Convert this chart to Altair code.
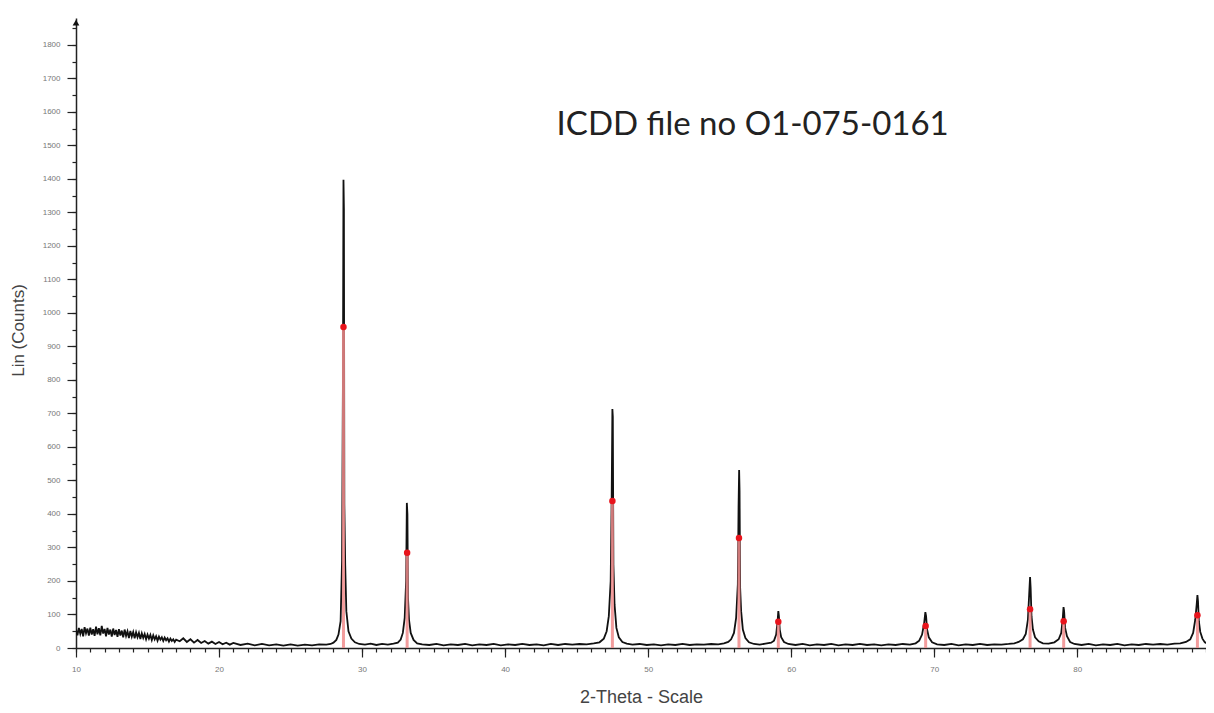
import altair as alt
import pandas as pd

two_theta = [
    # noisy low-angle background (dense)
    10.0, 10.1, 10.2, 10.3, 10.4, 10.5, 10.6, 10.7, 10.8, 10.9, 11.0,
    11.1, 11.2, 11.3, 11.4, 11.5, 11.6, 11.7, 11.8, 11.9, 12.0,
    12.1, 12.2, 12.3, 12.4, 12.5, 12.6, 12.7, 12.8, 12.9, 13.0,
    13.1, 13.2, 13.3, 13.4, 13.5, 13.6, 13.7, 13.8, 13.9, 14.0,
    14.1, 14.2, 14.3, 14.4, 14.5, 14.6, 14.7, 14.8, 14.9, 15.0,
    15.1, 15.2, 15.3, 15.4, 15.5, 15.6, 15.7, 15.8, 15.9, 16.0,
    16.1, 16.2, 16.3, 16.4, 16.5, 16.6, 16.7, 16.8, 16.9, 17.0,
    17.25, 17.5, 17.75, 18.0, 18.25, 18.5, 18.75, 19.0, 19.25, 19.5,
    19.75, 20.0, 20.25, 20.5, 20.75, 21.0,
    21.5, 22.0, 22.5, 23.0, 23.5, 24.0, 24.5, 25.0, 25.5, 26.0, 26.5,
    27.0, 27.5,
    # peak 1
    27.8, 28.0, 28.2, 28.35, 28.5, 28.6, 28.66, 28.7, 28.73, 28.76, 28.82,
    28.9, 29.05, 29.25, 29.5, 29.8,
    30.2, 30.6, 31.0, 31.4, 31.8, 32.2,
    # peak 2
    32.5, 32.7, 32.85, 32.98, 33.08, 33.13, 33.17, 33.21, 33.28, 33.4, 33.6, 33.85,
    34.2, 34.7, 35.2, 35.7, 36.2, 36.7, 37.2, 37.7, 38.2, 38.7, 39.2, 39.7,
    40.2, 40.7, 41.2, 41.7, 42.2, 42.7, 43.2, 43.7, 44.2, 44.7, 45.2, 45.7,
    46.2, 46.6,
    # peak 3
    46.9, 47.1, 47.25, 47.38, 47.45, 47.5, 47.53, 47.57, 47.65, 47.78, 47.95,
    48.2, 48.5,
    48.9, 49.4, 49.9, 50.4, 50.9, 51.4, 51.9, 52.4, 52.9, 53.4, 53.9, 54.4,
    54.9, 55.3, 55.6,
    # peak 4
    55.8, 56.0, 56.15, 56.27, 56.32, 56.36, 56.39, 56.43, 56.5, 56.62, 56.8,
    57.05, 57.4,
    57.8, 58.2, 58.6,
    # peak 5
    58.8, 58.95, 59.05, 59.1, 59.14, 59.2, 59.3, 59.5, 59.8,
    60.3, 60.8, 61.3, 61.8, 62.3, 62.8, 63.3, 63.8, 64.3, 64.8, 65.3, 65.8,
    66.3, 66.8, 67.3, 67.8, 68.3, 68.7,
    # peak 6
    68.95, 69.15, 69.3, 69.38, 69.43, 69.5, 69.62, 69.85, 70.2,
    70.7, 71.2, 71.7, 72.2, 72.7, 73.2, 73.7, 74.2, 74.7, 75.2, 75.6, 75.9,
    # peak 7
    76.2, 76.4, 76.55, 76.65, 76.7, 76.74, 76.8, 76.9, 77.05, 77.3, 77.6,
    78.0, 78.4,
    # peak 8
    78.7, 78.88, 78.98, 79.04, 79.08, 79.15, 79.28, 79.5, 79.8,
    80.3, 80.8, 81.3, 81.8, 82.3, 82.8, 83.3, 83.8, 84.3, 84.8, 85.3, 85.8,
    86.3, 86.8, 87.2, 87.6,
    # peak 9
    87.9, 88.1, 88.25, 88.35, 88.4, 88.44, 88.5, 88.6, 88.75, 88.9, 89.0,
]
counts = [
    55, 38, 60, 42, 57, 35, 62, 44, 58, 37, 61,
    40, 56, 36, 64, 41, 59, 38, 66, 43, 57,
    35, 60, 40, 55, 34, 58, 39, 54, 33, 56,
    37, 52, 32, 55, 36, 50, 30, 51, 34, 48,
    29, 47, 32, 45, 27, 44, 30, 42, 26, 40,
    28, 39, 24, 38, 26, 35, 22, 34, 25, 32,
    21, 31, 23, 29, 19, 28, 21, 26, 18, 25,
    20, 29, 18, 26, 16, 24, 15, 21, 13, 19,
    12, 18, 11, 16, 10, 15,
    9, 13, 8, 12, 8, 11, 7, 11, 7, 10, 8,
    11, 10,
    12, 16, 24, 40, 80, 260, 780, 1397, 1310, 430, 250,
    110, 50, 28, 17, 12,
    10, 13, 9, 12, 10, 13,
    16, 25, 45, 90, 200, 433, 400, 150, 85, 45, 24, 14,
    11, 9, 12, 8, 11, 9, 12, 8, 11, 9, 12, 8,
    11, 9, 12, 9, 11, 8, 12, 9, 12, 10, 12, 11,
    14, 17,
    28, 50, 95, 200, 450, 713, 690, 250, 130, 60, 32,
    18, 13,
    10, 12, 9, 11, 8, 11, 9, 12, 9, 11, 10, 12,
    11, 14, 18,
    26, 45, 90, 190, 420, 531, 470, 180, 110, 55, 30,
    17, 12,
    10, 13, 16,
    22, 40, 80, 110, 95, 55, 32, 18, 12,
    9, 12, 8, 11, 9, 12, 8, 11, 9, 12, 9, 11,
    8, 11, 9, 12, 10, 14,
    22, 40, 75, 107, 95, 55, 32, 17, 11,
    9, 12, 8, 11, 9, 12, 9, 11, 10, 12, 14, 18,
    26, 42, 85, 170, 212, 180, 95, 55, 32, 20, 14,
    13, 17,
    26, 45, 85, 122, 110, 60, 35, 18, 12,
    9, 12, 8, 11, 9, 12, 8, 11, 9, 12, 10, 12,
    10, 13, 14, 18,
    26, 45, 85, 130, 158, 140, 80, 48, 28, 18, 14,
]

# ---- ICDD reference lines ----
ref_theta = [28.7, 33.15, 47.5, 56.35, 59.1, 69.4, 76.7, 79.05, 88.4]
ref_counts = [958, 284, 439, 328, 78, 66, 116, 80, 98]

# ---- annotation ----
note_text = ["ICDD file no O1-075-0161"]
note_theta = [43.6]
note_counts = [1561]

# axis arrow at the top of the y axis
arrow_theta = [10.0]
arrow_counts = [1866]

# tick positions
x_major = [10, 20, 30, 40, 50, 60, 70, 80]
x_minor = list(range(10, 90))
y_major = list(range(0, 1801, 100))
y_minor = list(range(0, 1851, 50))

X_DOMAIN = [10, 89.0]
Y_DOMAIN = [0, 1880]

trace_df = pd.DataFrame({"theta": two_theta, "counts": counts})
ref_df = pd.DataFrame({"theta": ref_theta, "counts": ref_counts})
note_df = pd.DataFrame({"theta": note_theta, "counts": note_counts, "text": note_text})
arrow_df = pd.DataFrame({"theta": arrow_theta, "counts": arrow_counts})

xscale = alt.Scale(domain=X_DOMAIN, nice=False, zero=False)
yscale = alt.Scale(domain=Y_DOMAIN, nice=False)

AX = dict(
    grid=False,
    domainColor="#222",
    domainWidth=1.5,
    tickColor="#222",
    tickWidth=1.2,
    labelFont="Liberation Sans",
    labelFontSize=8,
    labelColor="#777",
    labelOverlap=False,
    labelFlush=False,
    format="d",
    titleFont="Liberation Sans",
    titleFontWeight="normal",
    titleColor="#444",
)

x_axis = alt.Axis(
    title="2-Theta - Scale",
    orient="bottom",
    values=x_major,
    tickSize=9,
    labelPadding=8,
    titleFontSize=18,
    titleY=49,
    titleBaseline="middle",
    **AX,
)
y_axis = alt.Axis(
    title="Lin (Counts)",
    orient="left",
    values=y_major,
    tickSize=9,
    labelPadding=7,
    titleFontSize=17,
    titleX=-58,
    titleY=312,
    titleBaseline="middle",
    **AX,
)
x_minor_axis = alt.Axis(
    title="", orient="bottom", values=x_minor, tickSize=4, labels=False,
    domain=False, grid=False, tickColor="#222", tickWidth=1.2,
)
y_minor_axis = alt.Axis(
    title="", orient="left", values=y_minor, tickSize=4, labels=False,
    domain=False, grid=False, tickColor="#222", tickWidth=1.2,
)

trace = alt.Chart(trace_df).mark_line(color="#111111", strokeWidth=1.8, clip=True).encode(
    x=alt.X("theta:Q", scale=xscale, axis=x_axis),
    y=alt.Y("counts:Q", scale=yscale, axis=y_axis),
)

sticks = alt.Chart(ref_df).mark_rule(color="#f08c8c", strokeWidth=3, opacity=0.85).encode(
    x=alt.X("theta:Q", scale=xscale, axis=x_minor_axis),
    y=alt.Y("counts:Q", scale=yscale, axis=y_minor_axis),
    y2=alt.datum(0),
)

dots = alt.Chart(ref_df).mark_circle(color="#e8141c", size=42, opacity=1).encode(
    x=alt.X("theta:Q", scale=xscale, axis=None),
    y=alt.Y("counts:Q", scale=yscale, axis=None),
)

arrow = alt.Chart(arrow_df).mark_point(
    shape="triangle-up", filled=True, color="#111", size=45, opacity=1
).encode(
    x=alt.X("theta:Q", scale=xscale, axis=None),
    y=alt.Y("counts:Q", scale=yscale, axis=None),
)

note = alt.Chart(note_df).mark_text(
    align="left", baseline="middle", font="Lato", fontSize=33, color="#222"
).encode(
    x=alt.X("theta:Q", scale=xscale, axis=None),
    y=alt.Y("counts:Q", scale=yscale, axis=None),
    text="text:N",
)

chart = alt.layer(trace, sticks, dots, arrow, note).resolve_axis(
    x="independent", y="independent"
).properties(
    width=1130,
    height=630,
    autosize=alt.AutoSizeParams(type="none"),
    padding={"left": 68, "top": 10, "right": 0, "bottom": 57},
    background="white",
).configure_view(stroke=None)

chart.save("out.html", embed_options={"renderer": "svg", "actions": False})
